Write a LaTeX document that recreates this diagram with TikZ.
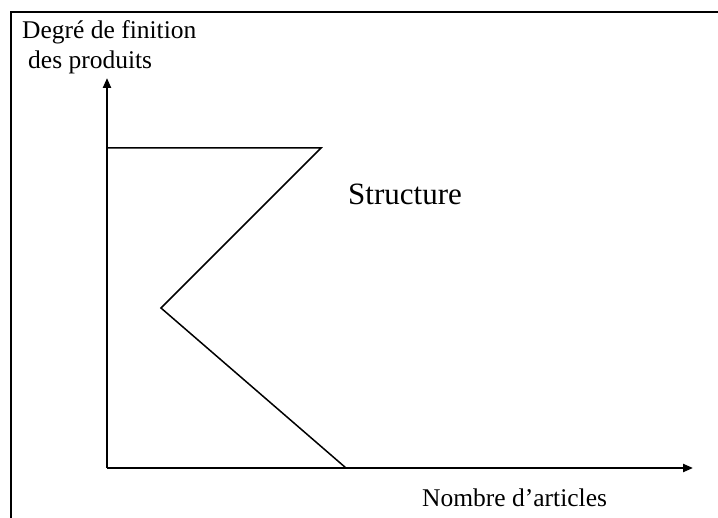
\documentclass[tikz,border=0pt]{standalone}
\usepackage{fontspec}
\setmainfont{Liberation Serif}
\usetikzlibrary{arrows.meta}
\tikzset{
  axis/.style={line width=2.2pt, -{Triangle[length=10pt,width=8pt]}},
  curve/.style={line width=1.5pt, line join=miter},
  frameline/.style={line width=2.2pt},
  lbl/.style={anchor=base west, inner sep=0pt, font=\fontsize{25.5}{30}\selectfont},
  biglbl/.style={anchor=base west, inner sep=0pt, font=\fontsize{31}{36}\selectfont}
}
\begin{document}
\begin{tikzpicture}[x=1pt,y=-1pt]
\useasboundingbox (0,0) rectangle (718,518);
% frame (left and top edges)
\coordinate (fb) at (11,518);
\coordinate (fc) at (11,12);
\coordinate (fr) at (718,12);
\draw[frameline] (fb) -- (fc) -- (fr);
% axes
\coordinate (O) at (107,468);
\coordinate (ytip) at (107,78);
\coordinate (xtip) at (693,468);
\draw[axis] (O) -- (ytip);
\draw[axis] (O) -- (xtip);
% structure line
\coordinate (p1) at (107,148);
\coordinate (p2) at (321,148);
\coordinate (p3) at (161,308);
\coordinate (p4) at (346,468);
\draw[curve] (p1) -- (p2) -- (p3) -- (p4);
% labels
\node[lbl] (ylab1) at (22,39) {Degré de finition};
\node[lbl] (ylab2) at (28,69) {des produits};
\node[biglbl] (struct) at (348,205) {Structure};
\node[lbl] (xlab) at (422,507) {Nombre d’articles};
\end{tikzpicture}
\end{document}
